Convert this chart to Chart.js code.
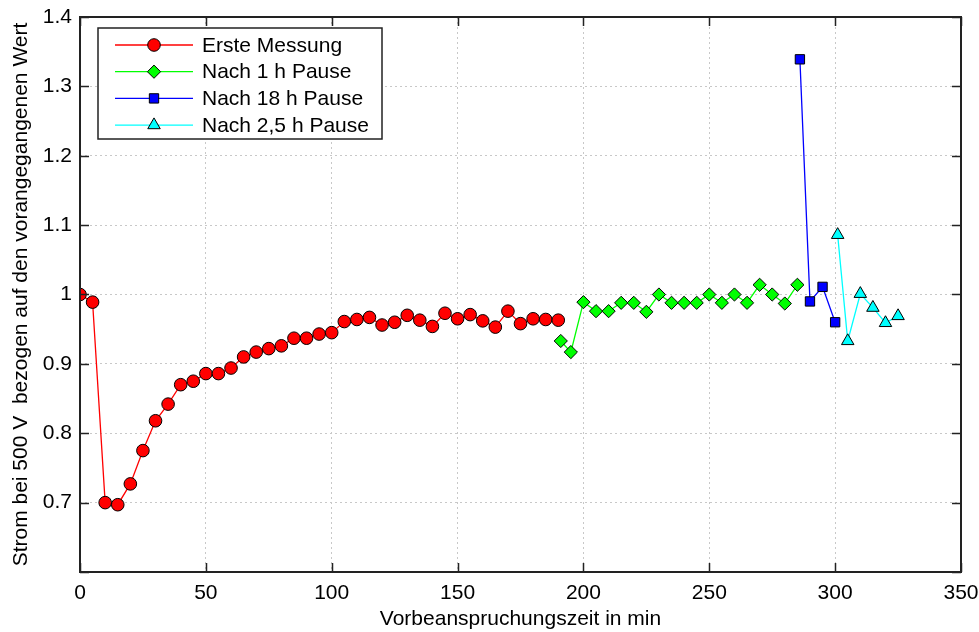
<!DOCTYPE html>
<html lang="de">
<head>
<meta charset="UTF-8">
<title>Vorbeanspruchung</title>
<script src="https://cdn.jsdelivr.net/npm/chart.js"></script>
<style>
  html, body { margin: 0; padding: 0; background: #fff; }
  #wrap { width: 979px; height: 632px; }
</style>
</head>
<body>
<div id="wrap"><canvas id="grafico"></canvas></div>
<script>
// Erste Messung
var xErste = [0, 5, 10, 15, 20, 25, 30, 35, 40, 45, 50, 55, 60, 65, 70, 75, 80, 85, 90, 95,
              100, 105, 110, 115, 120, 125, 130, 135, 140, 145, 150, 155, 160, 165, 170, 175, 180, 185, 190];
var yErste = [1.0, 0.989, 0.700, 0.697, 0.727, 0.775, 0.818, 0.842, 0.870, 0.875, 0.886, 0.886, 0.894, 0.910, 0.917, 0.922, 0.926, 0.937, 0.937, 0.943,
              0.945, 0.961, 0.964, 0.967, 0.956, 0.960, 0.970, 0.963, 0.954, 0.973, 0.965, 0.971, 0.962, 0.953, 0.976, 0.958, 0.965, 0.964, 0.963];

// Nach 1 h Pause
var xPause1 = [191, 195, 200, 205, 210, 215, 220, 225, 230, 235, 240, 245, 250, 255, 260, 265, 270, 275, 280, 285];
var yPause1 = [0.933, 0.917, 0.989, 0.976, 0.976, 0.988, 0.988, 0.975, 1.0, 0.988, 0.988, 0.988, 1.0, 0.988, 1.0, 0.988, 1.014, 1.0, 0.987, 1.014];

// Nach 18 h Pause
var xPause18 = [286, 290, 295, 300];
var yPause18 = [1.339, 0.990, 1.011, 0.960];

// Nach 2,5 h Pause
var xPause25 = [301, 305, 310, 315, 320, 325];
var yPause25 = [1.086, 0.933, 1.001, 0.981, 0.959, 0.969];

var xTicks = [0, 50, 100, 150, 200, 250, 300, 350];
var yTicks = [0.6, 0.7, 0.8, 0.9, 1.0, 1.1, 1.2, 1.3, 1.4];

var schrift = "'Liberation Sans', Arial, sans-serif";
var groesse = 21;

function punkte(xs, ys) {
    return xs.map(function (x, i) { return { x: x, y: ys[i] }; });
}

function serie(name, xs, ys, farbe, form, radius) {
    return {
        label: name,
        data: punkte(xs, ys),
        borderColor: farbe,
        borderWidth: 1.3,
        backgroundColor: farbe,
        pointStyle: form,
        pointRadius: radius,
        pointBorderColor: '#000',
        pointBorderWidth: 1,
        pointBackgroundColor: farbe,
        tension: 0,
        fill: false
    };
}

var datasets = [
    serie('Erste Messung', xErste, yErste, '#ff0000', 'circle', 6.3),
    serie('Nach 1 h Pause', xPause1, yPause1, '#00ff00', 'rectRot', 6.6),
    serie('Nach 18 h Pause', xPause18, yPause18, '#0000ff', 'rect', 6.6),
    serie('Nach 2,5 h Pause', xPause25, yPause25, '#00ffff', 'triangle', 7.2)
];

// Rahmen, innere Ticks und Legende im MATLAB-Stil
var rahmenPlugin = {
    id: 'rahmen',
    afterDatasetsDraw: function (chart) {
        var ctx = chart.ctx;
        var a = chart.chartArea;
        var sx = chart.scales.x, sy = chart.scales.y;
        ctx.save();
        ctx.strokeStyle = '#222';
        ctx.lineWidth = 1.5;
        ctx.beginPath();
        xTicks.forEach(function (v) {
            var px = Math.round(sx.getPixelForValue(v)) + 0.5;
            ctx.moveTo(px, a.bottom); ctx.lineTo(px, a.bottom - 9);
            ctx.moveTo(px, a.top); ctx.lineTo(px, a.top + 9);
        });
        yTicks.forEach(function (v) {
            var py = Math.round(sy.getPixelForValue(v)) + 0.5;
            ctx.moveTo(a.left, py); ctx.lineTo(a.left + 9, py);
            ctx.moveTo(a.right, py); ctx.lineTo(a.right - 9, py);
        });
        ctx.stroke();
        ctx.lineWidth = 2;
        ctx.strokeRect(a.left, a.top, a.right - a.left, a.bottom - a.top);

        // Legende
        var lx = a.left + 18, ly = a.top + 11, lw = 284, lh = 111;
        ctx.fillStyle = '#fff';
        ctx.fillRect(lx, ly, lw, lh);
        ctx.lineWidth = 1.5;
        ctx.strokeStyle = '#222';
        ctx.strokeRect(lx, ly, lw, lh);
        ctx.font = groesse + 'px ' + schrift;
        ctx.textBaseline = 'middle';
        ctx.textAlign = 'left';
        chart.data.datasets.forEach(function (ds, i) {
            var yy = ly + 17 + i * 26.7;
            ctx.strokeStyle = ds.borderColor;
            ctx.lineWidth = 1.3;
            ctx.beginPath();
            ctx.moveTo(lx + 17, yy); ctx.lineTo(lx + 95, yy);
            ctx.stroke();
            ctx.fillStyle = ds.pointBackgroundColor;
            ctx.strokeStyle = '#000';
            ctx.lineWidth = 1;
            Chart.helpers.drawPoint(ctx, { pointStyle: ds.pointStyle, radius: ds.pointRadius, rotation: 0, borderWidth: 1 }, lx + 56, yy);
            ctx.fillStyle = '#000';
            ctx.fillText(ds.label, lx + 104, yy + 1);
        });
        ctx.restore();
    }
};

var gitter = { color: '#c8c8c8', lineWidth: 1, drawTicks: false };

new Chart(document.getElementById('grafico'), {
    type: 'line',
    data: { datasets: datasets },
    plugins: [rahmenPlugin],
    options: {
        responsive: true,
        maintainAspectRatio: false,
        animation: false,
        layout: { padding: { top: 14, right: 0, left: 0, bottom: 0 } },
        plugins: { legend: { display: false }, tooltip: { enabled: false } },
        scales: {
            x: {
                type: 'linear',
                min: 0, max: 350,
                afterBuildTicks: function (s) { s.ticks = xTicks.map(function (v) { return { value: v }; }); },
                afterFit: function (s) { s.height = 60; s.paddingRight = 18; },
                grid: gitter,
                border: { display: false, dash: [2, 3] },
                ticks: { color: '#000', font: { family: schrift, size: groesse }, padding: 9, maxRotation: 0 },
                title: { display: true, text: 'Vorbeanspruchungszeit in min', color: '#000', font: { family: schrift, size: groesse }, padding: { top: 0, bottom: 0 } }
            },
            y: {
                min: 0.6, max: 1.4,
                afterBuildTicks: function (s) { s.ticks = yTicks.map(function (v) { return { value: v }; }); },
                afterFit: function (s) { s.width = 80; s.paddingTop = 17; },
                grid: gitter,
                border: { display: false, dash: [2, 3] },
                ticks: {
                    color: '#000', font: { family: schrift, size: groesse }, padding: 8,
                    callback: function (v) { return v < 0.65 ? '' : String(Number(v.toFixed(1))); }
                },
                title: { display: true, text: 'Strom bei 500 V  bezogen auf den vorangegangenen Wert', color: '#000', font: { family: schrift, size: groesse }, padding: { top: 9, bottom: 0 } }
            }
        }
    }
});
</script>
</body>
</html>
